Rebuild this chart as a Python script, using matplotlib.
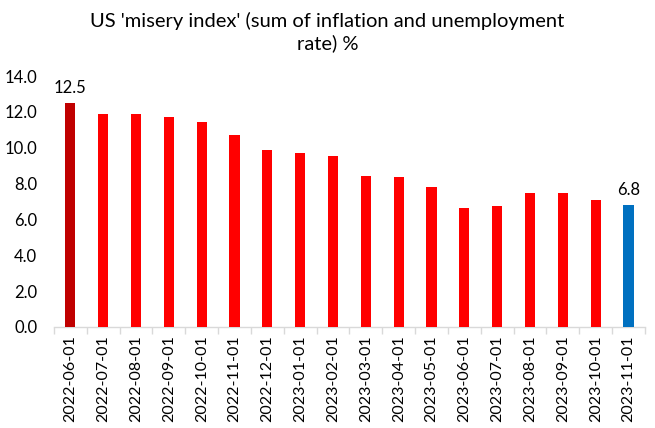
import matplotlib
matplotlib.use("Agg")
import matplotlib.pyplot as plt
import numpy as np

categories = ["2022-06-01", "2022-07-01", "2022-08-01", "2022-09-01", "2022-10-01",
              "2022-11-01", "2022-12-01", "2023-01-01", "2023-02-01", "2023-03-01",
              "2023-04-01", "2023-05-01", "2023-06-01", "2023-07-01", "2023-08-01",
              "2023-09-01", "2023-10-01", "2023-11-01"]
values = [12.5, 11.9, 11.9, 11.7, 11.45, 10.7, 9.9, 9.7, 9.55, 8.45,
          8.35, 7.8, 6.65, 6.75, 7.5, 7.5, 7.1, 6.8]
yticks = [0, 2, 4, 6, 8, 10, 12, 14]
title = "US 'misery index' (sum of inflation and unemployment\nrate) %"

plt.rcParams['font.family'] = ['Lato', 'DejaVu Sans']

colors = ["#FF0000"] * len(values)
colors[0] = "#C00000"
colors[-1] = "#0070C0"

fig = plt.figure(figsize=(6.55, 4.28), dpi=100)
ax = fig.add_axes([0.0824, 0.236, 0.9023, 0.5864])
x = np.arange(len(values))
ax.bar(x, values, width=0.31, color=colors, zorder=3)

ax.set_xlim(-0.5, len(values) - 0.5)
ax.set_ylim(0, 14)
ax.set_yticks(yticks)
ax.set_yticklabels([f"{v:.1f}" for v in yticks], fontsize=12, color="#000000")
ax.tick_params(axis='y', length=0, pad=12)

ax.set_xticks(x)
ax.set_xticklabels(categories, rotation=90, fontsize=11.5, color="#000000")
ax.set_xticks(np.arange(-0.5, len(values), 1.0), minor=True)
ax.tick_params(axis='x', which='major', length=0, pad=6)
ax.tick_params(axis='x', which='minor', length=5, color="#D9D9D9", width=1)

for s in ["top", "right", "left"]:
    ax.spines[s].set_visible(False)
ax.spines["bottom"].set_color("#D9D9D9")
ax.spines["bottom"].set_linewidth(1)

for i in (0, len(values) - 1):
    ax.annotate(f"{values[i]:.1f}", (x[i], values[i]), xytext=(0, 5),
                textcoords="offset points", ha="center", va="bottom", fontsize=12)

fig.text(0.5, 0.972, title, ha="center", va="top", fontsize=14.5, linespacing=1.3)

fig.savefig("out.png", dpi=100)
